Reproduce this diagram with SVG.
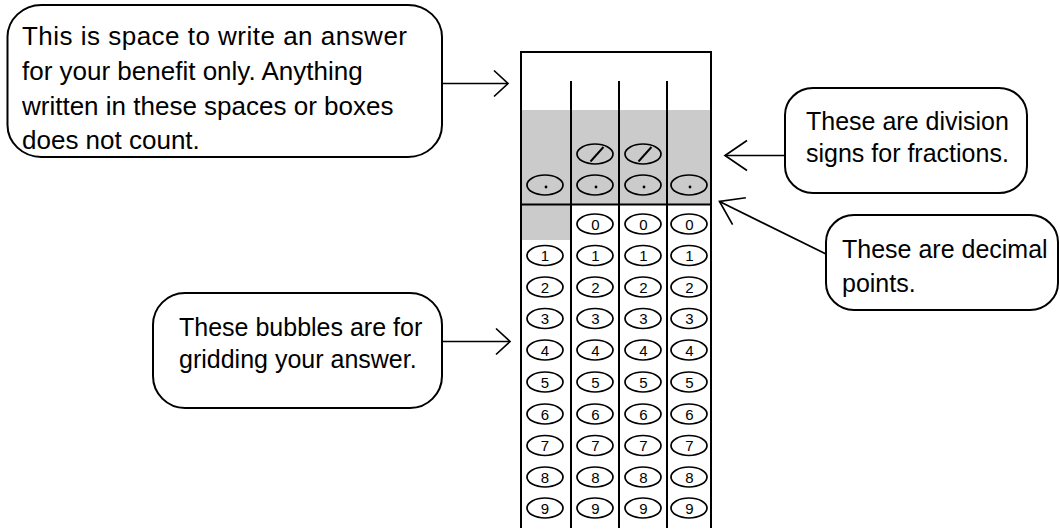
<svg xmlns="http://www.w3.org/2000/svg" width="1060" height="529" viewBox="0 0 1060 529">
  <style>
    .callout { fill: #ffffff; stroke: #000000; stroke-width: 2; }
    .note { font-family: "Liberation Sans", Arial, sans-serif; font-size: 25px; fill: #000000; }
    .grid-line { stroke: #000000; stroke-width: 2; fill: none; }
    .shade { fill: #cbcbcb; }
    .bubble { fill: none; stroke: #000000; stroke-width: 1.7; }
    .digit { font-family: "Liberation Sans", Arial, sans-serif; font-size: 15px; fill: #000000; text-anchor: middle; }
    .slash { stroke: #000000; stroke-width: 1.9; }
    .conn { stroke: #000000; stroke-width: 1.7; fill: none; }
  </style>
  <defs>
    <marker id="head-small" markerUnits="userSpaceOnUse" viewBox="-30 -20 32 40" markerWidth="32" markerHeight="40" refX="0" refY="0" orient="auto" overflow="visible">
      <path d="M-14,-13 L0,0 L-14,13" fill="none" stroke="#000" stroke-width="1.7"/>
    </marker>
    <marker id="head-large" markerUnits="userSpaceOnUse" viewBox="-30 -20 32 40" markerWidth="32" markerHeight="40" refX="0" refY="0" orient="auto" overflow="visible">
      <path d="M-22,-15 L0,0 L-22,15" fill="none" stroke="#000" stroke-width="1.7"/>
    </marker>
    <ellipse id="oval" cx="0" cy="0" rx="18" ry="10" class="bubble"/>
  </defs>

  <!-- gridding grid -->
  <g id="answer-grid">
    <rect class="shade" x="521" y="110" width="190" height="94.5"/>
    <rect class="shade" x="521" y="204.5" width="50" height="35.5"/>
    <path class="grid-line" d="M521,528 V52 H711 V528 M571,81 V528 M619,81 V528 M667,81 V528 M521,204.5 H711"/>

    <!-- fraction slashes -->
    <g>
      <use href="#oval" x="595" y="154"/>
      <line class="slash" x1="590.5" y1="161.5" x2="603.5" y2="147"/>
      <use href="#oval" x="643" y="154"/>
      <line class="slash" x1="638.5" y1="161.5" x2="651.5" y2="147"/>
    </g>

    <!-- decimal points -->
    <g>
      <use href="#oval" x="545" y="185"/>
      <circle cx="546" cy="187" r="1.4"/>
      <use href="#oval" x="595" y="185"/>
      <circle cx="596" cy="187" r="1.4"/>
      <use href="#oval" x="643" y="185"/>
      <circle cx="644" cy="187" r="1.4"/>
      <use href="#oval" x="689" y="185"/>
      <circle cx="690" cy="187" r="1.4"/>
    </g>

    <!-- digit bubbles -->
    <g>
      <use href="#oval" x="595" y="224"/><text class="digit" x="595.5" y="229.5">0</text>
      <use href="#oval" x="643" y="224"/><text class="digit" x="643.5" y="229.5">0</text>
      <use href="#oval" x="689" y="224"/><text class="digit" x="689.5" y="229.5">0</text>

      <use href="#oval" x="545" y="255.5"/><text class="digit" x="545" y="261">1</text>
      <use href="#oval" x="595" y="255.5"/><text class="digit" x="595.5" y="261">1</text>
      <use href="#oval" x="643" y="255.5"/><text class="digit" x="643.5" y="261">1</text>
      <use href="#oval" x="689" y="255.5"/><text class="digit" x="689.5" y="261">1</text>

      <use href="#oval" x="545" y="287"/><text class="digit" x="545" y="292.5">2</text>
      <use href="#oval" x="595" y="287"/><text class="digit" x="595.5" y="292.5">2</text>
      <use href="#oval" x="643" y="287"/><text class="digit" x="643.5" y="292.5">2</text>
      <use href="#oval" x="689" y="287"/><text class="digit" x="689.5" y="292.5">2</text>

      <use href="#oval" x="545" y="318.5"/><text class="digit" x="545" y="324">3</text>
      <use href="#oval" x="595" y="318.5"/><text class="digit" x="595.5" y="324">3</text>
      <use href="#oval" x="643" y="318.5"/><text class="digit" x="643.5" y="324">3</text>
      <use href="#oval" x="689" y="318.5"/><text class="digit" x="689.5" y="324">3</text>

      <use href="#oval" x="545" y="350"/><text class="digit" x="545" y="355.5">4</text>
      <use href="#oval" x="595" y="350"/><text class="digit" x="595.5" y="355.5">4</text>
      <use href="#oval" x="643" y="350"/><text class="digit" x="643.5" y="355.5">4</text>
      <use href="#oval" x="689" y="350"/><text class="digit" x="689.5" y="355.5">4</text>

      <use href="#oval" x="545" y="382"/><text class="digit" x="545" y="387.5">5</text>
      <use href="#oval" x="595" y="382"/><text class="digit" x="595.5" y="387.5">5</text>
      <use href="#oval" x="643" y="382"/><text class="digit" x="643.5" y="387.5">5</text>
      <use href="#oval" x="689" y="382"/><text class="digit" x="689.5" y="387.5">5</text>

      <use href="#oval" x="545" y="414"/><text class="digit" x="545" y="419.5">6</text>
      <use href="#oval" x="595" y="414"/><text class="digit" x="595.5" y="419.5">6</text>
      <use href="#oval" x="643" y="414"/><text class="digit" x="643.5" y="419.5">6</text>
      <use href="#oval" x="689" y="414"/><text class="digit" x="689.5" y="419.5">6</text>

      <use href="#oval" x="545" y="445.5"/><text class="digit" x="545" y="451">7</text>
      <use href="#oval" x="595" y="445.5"/><text class="digit" x="595.5" y="451">7</text>
      <use href="#oval" x="643" y="445.5"/><text class="digit" x="643.5" y="451">7</text>
      <use href="#oval" x="689" y="445.5"/><text class="digit" x="689.5" y="451">7</text>

      <use href="#oval" x="545" y="477"/><text class="digit" x="545" y="482.5">8</text>
      <use href="#oval" x="595" y="477"/><text class="digit" x="595.5" y="482.5">8</text>
      <use href="#oval" x="643" y="477"/><text class="digit" x="643.5" y="482.5">8</text>
      <use href="#oval" x="689" y="477"/><text class="digit" x="689.5" y="482.5">8</text>

      <use href="#oval" x="545" y="508"/><text class="digit" x="545" y="513.5">9</text>
      <use href="#oval" x="595" y="508"/><text class="digit" x="595.5" y="513.5">9</text>
      <use href="#oval" x="643" y="508"/><text class="digit" x="643.5" y="513.5">9</text>
      <use href="#oval" x="689" y="508"/><text class="digit" x="689.5" y="513.5">9</text>
    </g>
  </g>

  <!-- explanatory notes -->
  <g id="note-scratch">
    <rect class="callout" x="7.5" y="5" width="434.5" height="152" rx="34" ry="32"/>
    <text class="note" style="font-size:26px">
      <tspan x="22" y="45" textLength="385" lengthAdjust="spacing">This is space to write an answer</tspan>
      <tspan x="22" y="80">for your benefit only. Anything</tspan>
      <tspan x="22" y="114.5">written in these spaces or boxes</tspan>
      <tspan x="22" y="149">does not count.</tspan>
    </text>
  </g>

  <g id="note-division">
    <rect class="callout" x="785" y="88" width="242" height="105" rx="28" ry="27"/>
    <text class="note">
      <tspan x="806" y="130">These are division</tspan>
      <tspan x="806" y="162">signs for fractions.</tspan>
    </text>
  </g>

  <g id="note-decimal">
    <rect class="callout" x="826" y="215" width="232" height="95" rx="28" ry="27"/>
    <text class="note">
      <tspan x="842" y="258">These are decimal</tspan>
      <tspan x="842" y="292">points.</tspan>
    </text>
  </g>

  <g id="note-bubbles">
    <rect class="callout" x="153" y="293" width="289" height="115" rx="32" ry="32"/>
    <text class="note">
      <tspan x="179" y="336">These bubbles are for</tspan>
      <tspan x="179" y="368">gridding your answer.</tspan>
    </text>
  </g>

  <!-- pointers from notes to the grid -->
  <g id="connectors">
    <line class="conn" x1="442" y1="83.5" x2="508" y2="83.5" marker-end="url(#head-small)"/>
    <line class="conn" x1="785" y1="155.5" x2="725" y2="155.5" marker-end="url(#head-large)"/>
    <line class="conn" x1="826" y1="254" x2="719.5" y2="201.5" marker-end="url(#head-large)"/>
    <line class="conn" x1="442" y1="341.5" x2="510" y2="341.5" marker-end="url(#head-small)"/>
  </g>
</svg>
